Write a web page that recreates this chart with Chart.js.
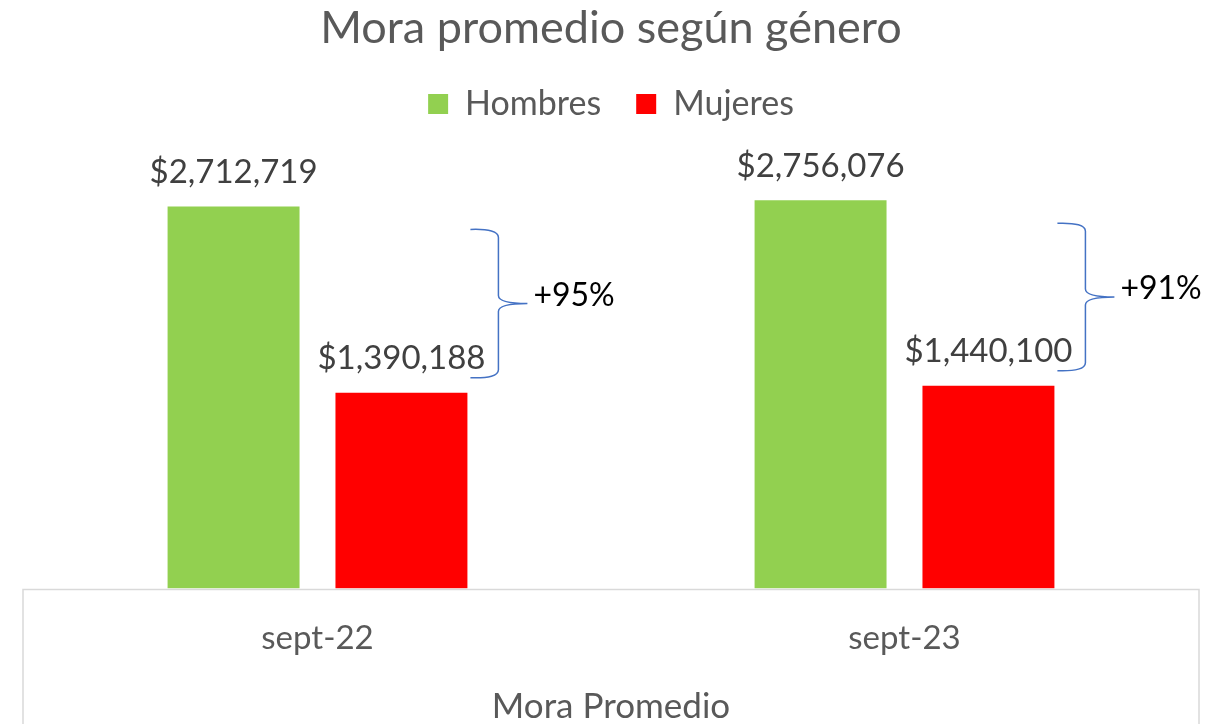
<!DOCTYPE html>
<html><head><meta charset="utf-8">
<script src="https://cdn.jsdelivr.net/npm/chart.js@4.4.0/dist/chart.umd.min.js"></script>
<style>html,body{margin:0;padding:0;background:#fff}#wrap{width:1216px;height:724px}</style>
</head><body><div id="wrap"><canvas id="c" width="1216" height="724"></canvas></div>
<script>
const categories = ['sept-22', 'sept-23'];
const hombres = [2712719, 2756076];
const mujeres = [1390188, 1440100];
const diffLabels = ['+95%', '+91%'];
const axisTitle = 'Mora Promedio';
const chartTitle = 'Mora promedio según género';
const FONT = 'Lato';
const GRAY = '#595959';

const legendSpacer = {
  id: 'legendSpacer',
  afterInit(chart) {
    const lg = chart.legend;
    if (lg && !lg._patched) {
      const orig = lg.fit.bind(lg);
      lg.fit = function () { orig(); this.height += 35; };
      lg._patched = true;
    }
  }
};

const boxPlugin = {
  id: 'boxPlugin',
  afterDraw(chart) {
    const {ctx, chartArea} = chart;
    ctx.save();
    ctx.strokeStyle = '#d9d9d9';
    ctx.lineWidth = 1.5;
    ctx.beginPath();
    ctx.moveTo(chartArea.left - 1, chart.height);
    ctx.lineTo(chartArea.left - 1, chartArea.bottom + 1);
    ctx.lineTo(chartArea.right + 1, chartArea.bottom + 1);
    ctx.lineTo(chartArea.right + 1, chart.height);
    ctx.stroke();
    ctx.restore();
  }
};

const labelPlugin = {
  id: 'labelPlugin',
  afterDatasetsDraw(chart) {
    const {ctx} = chart;
    ctx.save();
    ctx.font = '33px ' + FONT;
    ctx.fillStyle = '#404040';
    ctx.textAlign = 'center';
    ctx.textBaseline = 'middle';
    chart.data.datasets.forEach((ds, di) => {
      chart.getDatasetMeta(di).data.forEach((bar, i) => {
        ctx.fillText('$' + ds.data[i].toLocaleString('en-US'), bar.x, bar.y - 34);
      });
    });
    const gMeta = chart.getDatasetMeta(0).data;
    const rMeta = chart.getDatasetMeta(1).data;
    rMeta.forEach((rb, i) => {
      const gb = gMeta[i];
      const top = gb.y + 23, bot = rb.y - 15;
      const left = rb.x + rb.width / 2 + 3;
      const vx = left + 28, tip = left + 57;
      const mid = (top + bot) / 2;
      ctx.strokeStyle = '#4472C4';
      ctx.lineWidth = 1.5;
      ctx.beginPath();
      ctx.moveTo(left, top);
      ctx.quadraticCurveTo(vx, top - 1, vx, top + 8);
      ctx.lineTo(vx, mid - 8);
      ctx.quadraticCurveTo(vx, mid, tip, mid);
      ctx.quadraticCurveTo(vx, mid, vx, mid + 8);
      ctx.lineTo(vx, bot - 8);
      ctx.quadraticCurveTo(vx, bot + 1, left, bot);
      ctx.stroke();
      ctx.font = '32px ' + FONT;
      ctx.fillStyle = '#000';
      ctx.textAlign = 'left';
      ctx.fillText(diffLabels[i], tip + 6, mid - 8);
    });
    ctx.restore();
  }
};

new Chart(document.getElementById('c'), {
  type: 'bar',
  data: {
    labels: categories,
    datasets: [
      {label: 'Hombres', data: hombres, backgroundColor: '#92D050', categoryPercentage: 0.572, barPercentage: 0.786},
      {label: 'Mujeres', data: mujeres, backgroundColor: '#FF0000', categoryPercentage: 0.572, barPercentage: 0.786}
    ]
  },
  options: {
    responsive: false,
    animation: false,
    layout: {padding: {left: 24, right: 18, top: 0, bottom: 0}},
    plugins: {
      title: {display: true, text: chartTitle, color: GRAY, font: {family: FONT, size: 45, weight: 'normal', lineHeight: 1.0}, padding: {top: 5.5, bottom: 1.5}},
      legend: {
        display: true,
        labels: {color: GRAY, font: {family: FONT, size: 34}, boxWidth: 20, boxHeight: 20, padding: 35}
      },
      tooltip: {enabled: false}
    },
    scales: {
      x: {
        grid: {display: false, drawTicks: false},
        border: {display: false},
        ticks: {color: GRAY, font: {family: FONT, size: 33}, padding: 30.5},
        title: {display: true, text: axisTitle, color: GRAY, font: {family: FONT, size: 35, lineHeight: 1.0}, padding: {top: 0, bottom: 0}}
      },
      y: {display: false, min: 0, max: 3000000}
    }
  },
  plugins: [legendSpacer, boxPlugin, labelPlugin]
});
</script></body></html>
